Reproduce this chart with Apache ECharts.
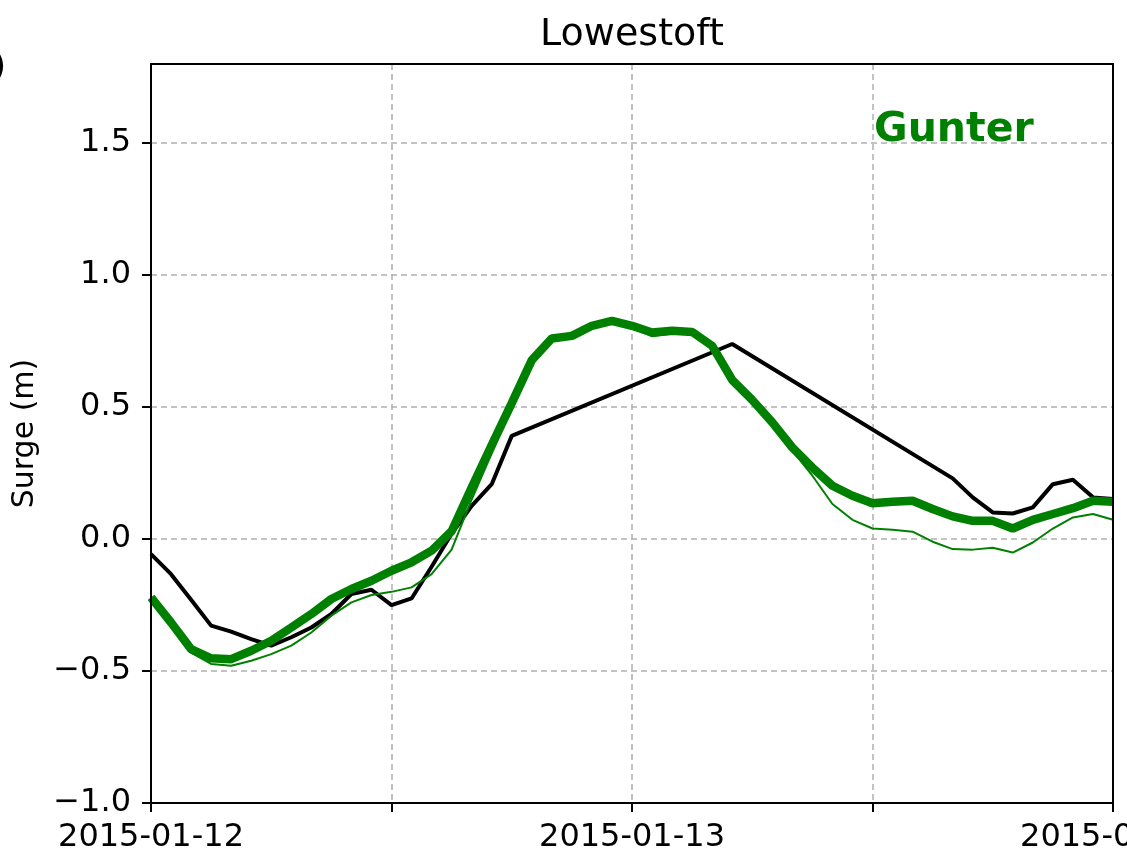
<!DOCTYPE html>
<html>
<head>
<meta charset="utf-8">
<style>
html,body{margin:0;padding:0;background:#fff;}
#chart{width:1127px;height:848px;}
</style>
<script src="https://cdn.jsdelivr.net/npm/echarts@6/dist/echarts.min.js"></script>
</head>
<body>
<div id="chart"></div>
<script>
// Hourly time steps, 2015-01-12 00:00 to 2015-01-14 00:00
const times = [
  '2015-01-12 00:00','2015-01-12 01:00','2015-01-12 02:00','2015-01-12 03:00','2015-01-12 04:00','2015-01-12 05:00',
  '2015-01-12 06:00','2015-01-12 07:00','2015-01-12 08:00','2015-01-12 09:00','2015-01-12 10:00','2015-01-12 11:00',
  '2015-01-12 12:00','2015-01-12 13:00','2015-01-12 14:00','2015-01-12 15:00','2015-01-12 16:00','2015-01-12 17:00',
  '2015-01-12 18:00','2015-01-12 19:00','2015-01-12 20:00','2015-01-12 21:00','2015-01-12 22:00','2015-01-12 23:00',
  '2015-01-13 00:00','2015-01-13 01:00','2015-01-13 02:00','2015-01-13 03:00','2015-01-13 04:00','2015-01-13 05:00',
  '2015-01-13 06:00','2015-01-13 07:00','2015-01-13 08:00','2015-01-13 09:00','2015-01-13 10:00','2015-01-13 11:00',
  '2015-01-13 12:00','2015-01-13 13:00','2015-01-13 14:00','2015-01-13 15:00','2015-01-13 16:00','2015-01-13 17:00',
  '2015-01-13 18:00','2015-01-13 19:00','2015-01-13 20:00','2015-01-13 21:00','2015-01-13 22:00','2015-01-13 23:00',
  '2015-01-14 00:00'
];

// Observed surge (black); null = missing observation
const observed = [
  -0.057,-0.133,-0.230,-0.328,-0.351,-0.379,-0.404,-0.372,-0.335,-0.284,-0.208,-0.192,
  -0.250,-0.225,-0.105, 0.020, 0.126, 0.208, 0.391, null, null, null, null, null,
   null, null, null, null, null, 0.739, null, null, null, null, null, null,
   null, null, null, null, 0.230, 0.158, 0.101, 0.097, 0.120, 0.208, 0.225, 0.158,
   0.152
];

// Gunter model, thick line
const gunterThick = [
  -0.221,-0.316,-0.417,-0.452,-0.455,-0.423,-0.385,-0.335,-0.284,-0.227,-0.189,-0.158,
  -0.120,-0.088,-0.044, 0.030, 0.195, 0.356, 0.515, 0.678, 0.760, 0.770, 0.808, 0.827,
   0.808, 0.783, 0.789, 0.785, 0.732, 0.603, 0.527, 0.442, 0.347, 0.271, 0.202, 0.164,
   0.136, 0.141, 0.145, 0.114, 0.086, 0.069, 0.069, 0.040, 0.073, 0.095, 0.117, 0.145,
   0.141
];

// Gunter model, thin line
const gunterThin = [
  -0.225,-0.325,-0.430,-0.473,-0.480,-0.461,-0.436,-0.404,-0.354,-0.290,-0.240,-0.212,
  -0.200,-0.183,-0.133,-0.040, 0.150, 0.325, 0.500, 0.668, 0.755, 0.765, 0.803, 0.823,
   0.803, 0.768, 0.778, 0.780, 0.728, 0.600, 0.525, 0.438, 0.335, 0.240, 0.133, 0.073,
   0.040, 0.035, 0.028,-0.010,-0.038,-0.040,-0.033,-0.051,-0.013, 0.040, 0.082, 0.095,
   0.073
];

const yTicks = [-1.0, -0.5, 0.0, 0.5, 1.0, 1.5];
const titleText = 'Lowestoft';
const modelName = 'Gunter';
const yName = 'Surge (m)';

const FONT = 'DejaVu Sans';
const chart = echarts.init(document.getElementById('chart'), null, {renderer: 'canvas'});

function fmtY(v) {
  const ok = yTicks.some(t => Math.abs(t - v) < 1e-6);
  if (!ok) return '';
  return (v < 0 ? '\u2212' : '') + Math.abs(v).toFixed(1);
}

const option = {
  animation: false,
  backgroundColor: '#fff',
  grid: {
    left: 151, right: 14, top: 64, bottom: 45,
    outerBoundsMode: 'none', containLabel: false,
    show: false
  },
  xAxis: {
    type: 'category',
    data: times,
    boundaryGap: false,
    axisLine: {show: true, onZero: false, lineStyle: {color: '#000', width: 2}},
    axisTick: {show: true, interval: 11, length: 9, lineStyle: {color: '#000', width: 2}},
    axisLabel: {
      interval: 11, margin: 19, color: '#000', fontFamily: FONT, fontSize: 32,
      showMinLabel: true, showMaxLabel: true, hideOverlap: false,
      formatter: v => v.endsWith('00:00') ? v.slice(0, 10) : ''
    },
    splitLine: {show: true, interval: 11, showMinLine: false, showMaxLine: false,
      lineStyle: {color: '#b0b0b0', width: 1.5, type: [6, 4]}}
  },
  yAxis: {
    type: 'value',
    min: -1.0, max: 1.8, interval: 0.5,
    axisLine: {show: true, onZero: false, lineStyle: {color: '#000', width: 2}},
    axisTick: {show: true, length: 9, lineStyle: {color: '#000', width: 2}},
    axisLabel: {margin: 20, color: '#000', fontFamily: FONT, fontSize: 32, formatter: fmtY, showMaxLabel: false},
    splitLine: {show: true, showMinLine: false, showMaxLine: false,
      lineStyle: {color: '#b0b0b0', width: 1.5, type: [6, 4]}}
  },
  series: [
    {
      name: 'Observed', type: 'line', data: observed, connectNulls: true,
      symbol: 'none', lineStyle: {color: '#000', width: 4}, z: 2
    },
    {
      name: modelName + ' thick', type: 'line', data: gunterThick,
      symbol: 'none', lineStyle: {color: '#008000', width: 8.5}, z: 3
    },
    {
      name: modelName + ' thin', type: 'line', data: gunterThin,
      symbol: 'none', lineStyle: {color: '#008000', width: 2}, z: 4
    }
  ]
};
chart.setOption(option);

// frame (spines) and texts positioned from the grid rectangle
const rect = chart.getModel().getComponent('grid', 0).coordinateSystem.getRect();
chart.setOption({
  graphic: [
    {type: 'rect', z: 20, silent: true,
      shape: {x: rect.x, y: rect.y, width: rect.width, height: rect.height},
      style: {fill: 'none', stroke: '#000', lineWidth: 2}},
    {type: 'text', x: rect.x + rect.width / 2, y: 35, style: {text: titleText, font: '38px "DejaVu Sans"', fill: '#000', textAlign: 'center', textVerticalAlign: 'middle'}},
    {type: 'text', x: 874, y: 130, z: 10, style: {text: modelName, font: 'bold 41px "DejaVu Sans"', fill: '#008000', textAlign: 'left', textVerticalAlign: 'middle'}},
    {type: 'text', x: 25, y: rect.y + rect.height / 2, rotation: Math.PI / 2, style: {text: yName, font: '30px "DejaVu Sans"', fill: '#000', textAlign: 'center', textVerticalAlign: 'middle'}},
    {type: 'text', x: 6, y: 68, style: {text: '(b)', font: '34px "DejaVu Sans"', fill: '#000', textAlign: 'right', textVerticalAlign: 'middle'}}
  ]
});
</script>
</body>
</html>
